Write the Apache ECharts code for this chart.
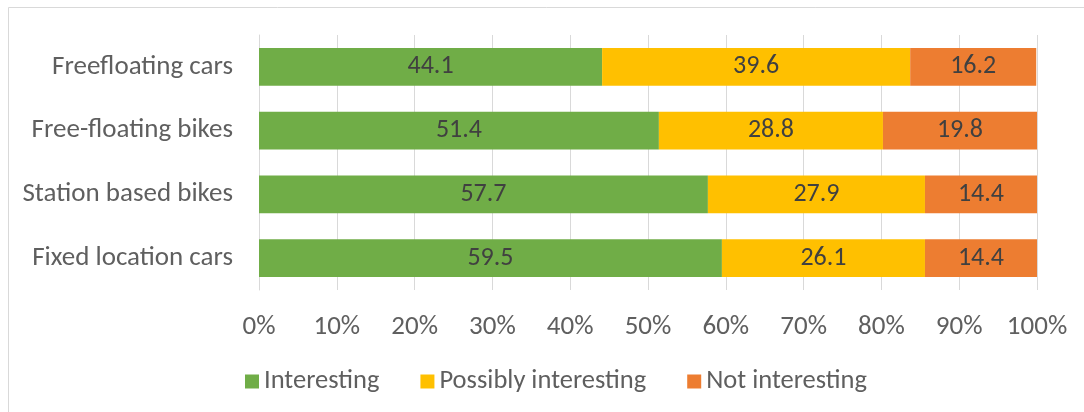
<!DOCTYPE html>
<html>
<head>
<meta charset="utf-8">
<script src="https://cdn.jsdelivr.net/npm/echarts@6/dist/echarts.min.js"></script>
<style>
html,body{margin:0;padding:0;background:#fff;}
#main{width:1084px;height:412px;}
</style>
</head>
<body>
<div id="main"></div>
<script>
const categories = ["Fixed location cars", "Station based bikes", "Free-floating bikes", "Freefloating cars"];
const seriesNames = ["Interesting", "Possibly interesting", "Not interesting"];
const interesting = [59.5, 57.7, 51.4, 44.1];
const possiblyInteresting = [26.1, 27.9, 28.8, 39.6];
const notInteresting = [14.4, 14.4, 19.8, 16.2];
const tickLabels = ["0%", "10%", "20%", "30%", "40%", "50%", "60%", "70%", "80%", "90%", "100%"];

const FONT = "Carlito, 'Open Sans', sans-serif";
const colors = ["#70AD47", "#FFC000", "#ED7D31"];
const values = [interesting, possiblyInteresting, notInteresting];

const chart = echarts.init(document.getElementById('main'), null, {renderer: 'canvas'});
chart.setOption({
  animation: false,
  backgroundColor: '#fff',
  graphic: [{
    type: 'rect', silent: true, z: -10,
    shape: {x: 8.5, y: 7.5, width: 1200, height: 600},
    style: {fill: 'none', stroke: '#d9d9d9', lineWidth: 1}
  }],
  grid: {left: 259, right: 47, top: 35, bottom: 122, containLabel: false},
  legend: {
    data: seriesNames,
    left: 245, top: 368, padding: 0,
    itemWidth: 14, itemHeight: 14, itemGap: 41,
    icon: 'rect',
    textStyle: {fontFamily: FONT, fontSize: 26.5, color: '#5f5f5f', padding: [0, 0, 0, 0]}
  },
  xAxis: {
    type: 'value', min: 0, max: 100, interval: 10,
    axisLine: {show: false}, axisTick: {show: false},
    splitLine: {show: true, lineStyle: {color: '#d9d9d9', width: 1}},
    axisLabel: {
      fontFamily: FONT, fontSize: 27, color: '#5f5f5f', margin: 24,
      formatter: function (v) { return tickLabels[Math.round(v / 10)]; }
    }
  },
  yAxis: {
    type: 'category', data: categories,
    axisLine: {show: true, lineStyle: {color: '#d9d9d9', width: 1}},
    axisTick: {show: false},
    axisLabel: {fontFamily: FONT, fontSize: 27, color: '#5f5f5f', margin: 26}
  },
  series: seriesNames.map(function (name, i) {
    return {
      name: name, type: 'bar', stack: 'total',
      barCategoryGap: '41%',
      data: values[i],
      itemStyle: {color: colors[i]},
      label: {
        show: true, position: 'inside',
        fontFamily: FONT, fontSize: 26, color: '#404040',
        formatter: function (p) { return p.value.toFixed(1); }
      }
    };
  })
});
</script>
</body>
</html>
